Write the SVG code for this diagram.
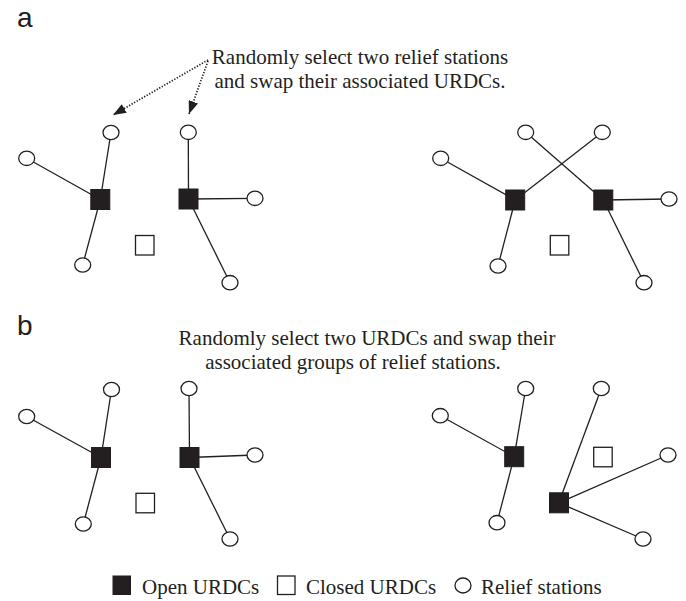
<svg xmlns="http://www.w3.org/2000/svg" width="686" height="601" viewBox="0 0 686 601">
<style>
.lbl{font-family:"Liberation Sans",Arial,sans-serif;font-size:28px;fill:#231f20}
.txt{font-family:"Liberation Serif","Times New Roman",serif;font-size:21px;fill:#231f20}
.open{fill:#231f20;stroke:#231f20;stroke-width:1}
.closed{fill:#fff;stroke:#231f20;stroke-width:1.3}
.rs{fill:#fff;stroke:#231f20;stroke-width:1.3}
.edge{stroke:#231f20;stroke-width:1.3;fill:none}
.dot{stroke:#231f20;stroke-width:1.7;fill:none;stroke-dasharray:1.3 1.6}
</style>
<defs>
<marker id="ah" viewBox="0 0 13 10" refX="13" refY="5" markerWidth="13" markerHeight="10" markerUnits="userSpaceOnUse" orient="auto">
<path d="M0,0 L13,5 L0,10 Z" fill="#231f20"/>
</marker>
</defs>
<rect width="686" height="601" fill="#fff"/>

<text class="lbl" x="17" y="27">a</text>
<text class="lbl" x="17" y="335">b</text>

<text class="txt" x="360" y="63.5" text-anchor="middle">Randomly select two relief stations</text>
<text class="txt" x="360" y="87.5" text-anchor="middle">and swap their associated URDCs.</text>
<text class="txt" x="367" y="345" text-anchor="middle">Randomly select two URDCs and swap their</text>
<text class="txt" x="353" y="369" text-anchor="middle">associated groups of relief stations.</text>

<g id="connectors">
<line class="dot" x1="208" y1="60" x2="113" y2="115" marker-end="url(#ah)"/>
<line class="dot" x1="208" y1="61" x2="189" y2="114" marker-end="url(#ah)"/>
<!-- a left -->
<line class="edge" x1="111" y1="132.5" x2="100.3" y2="199.5"/>
<line class="edge" x1="26.7" y1="158.3" x2="100.3" y2="199.5"/>
<line class="edge" x1="82.7" y1="265" x2="100.3" y2="199.5"/>
<line class="edge" x1="188.3" y1="132.3" x2="188.5" y2="199"/>
<line class="edge" x1="255" y1="198.3" x2="188.5" y2="199"/>
<line class="edge" x1="230" y1="282.7" x2="188.5" y2="199"/>
<!-- a right -->
<line class="edge" x1="525.7" y1="132.3" x2="603.3" y2="200"/>
<line class="edge" x1="602.3" y1="132.3" x2="515.2" y2="200"/>
<line class="edge" x1="440.7" y1="158.3" x2="515.2" y2="200"/>
<line class="edge" x1="498" y1="266" x2="515.2" y2="200"/>
<line class="edge" x1="669" y1="199" x2="603.3" y2="200"/>
<line class="edge" x1="644" y1="282.7" x2="603.3" y2="200"/>
<!-- b left -->
<line class="edge" x1="111.5" y1="389.5" x2="101" y2="457.5"/>
<line class="edge" x1="26.7" y1="416.5" x2="101" y2="457.5"/>
<line class="edge" x1="83.3" y1="524" x2="101" y2="457.5"/>
<line class="edge" x1="189" y1="388.5" x2="189.5" y2="457.5"/>
<line class="edge" x1="255" y1="455" x2="189.5" y2="457.5"/>
<line class="edge" x1="230" y1="539" x2="189.5" y2="457.5"/>
<!-- b right -->
<line class="edge" x1="525.7" y1="388.5" x2="514.2" y2="456.7"/>
<line class="edge" x1="440.3" y1="415.7" x2="514.2" y2="456.7"/>
<line class="edge" x1="497" y1="522.7" x2="514.2" y2="456.7"/>
<line class="edge" x1="601.3" y1="388.5" x2="558.8" y2="502.8"/>
<line class="edge" x1="668" y1="455" x2="558.8" y2="502.8"/>
<line class="edge" x1="643" y1="539" x2="558.8" y2="502.8"/>
</g>

<!-- panel a left -->
<g id="a-u1"><rect class="open" x="90.8" y="189.5" width="19" height="20"/></g>
<g id="a-u2"><rect class="open" x="179" y="189" width="19" height="20"/></g>
<g id="a-u3"><rect class="closed" x="135.5" y="235.5" width="18.5" height="19.5"/></g>
<g id="a-r1"><ellipse class="rs" cx="111" cy="132.5" rx="8" ry="7.2"/></g>
<g id="a-r2"><ellipse class="rs" cx="26.7" cy="158.3" rx="8" ry="7.2"/></g>
<g id="a-r3"><ellipse class="rs" cx="82.7" cy="265" rx="8" ry="7.2"/></g>
<g id="a-r4"><ellipse class="rs" cx="188.3" cy="132.3" rx="8" ry="7.2"/></g>
<g id="a-r5"><ellipse class="rs" cx="255" cy="198.3" rx="8" ry="7.2"/></g>
<g id="a-r6"><ellipse class="rs" cx="230" cy="282.7" rx="8" ry="7.2"/></g>

<!-- panel a right -->
<g id="a2-u1"><rect class="open" x="505.7" y="190" width="19" height="20"/></g>
<g id="a2-u2"><rect class="open" x="593.8" y="190" width="19" height="20"/></g>
<g id="a2-u3"><rect class="closed" x="550.3" y="235.5" width="18.5" height="19.5"/></g>
<g id="a2-r1"><ellipse class="rs" cx="525.7" cy="132.3" rx="8" ry="7.2"/></g>
<g id="a2-r2"><ellipse class="rs" cx="602.3" cy="132.3" rx="8" ry="7.2"/></g>
<g id="a2-r3"><ellipse class="rs" cx="440.7" cy="158.3" rx="8" ry="7.2"/></g>
<g id="a2-r4"><ellipse class="rs" cx="669" cy="199" rx="8" ry="7.2"/></g>
<g id="a2-r5"><ellipse class="rs" cx="498" cy="266" rx="8" ry="7.2"/></g>
<g id="a2-r6"><ellipse class="rs" cx="644" cy="282.7" rx="8" ry="7.2"/></g>

<!-- panel b left -->
<g id="b-u1"><rect class="open" x="91.5" y="447.5" width="19" height="20"/></g>
<g id="b-u2"><rect class="open" x="180" y="447.5" width="19" height="20"/></g>
<g id="b-u3"><rect class="closed" x="136" y="493.3" width="18.5" height="19.5"/></g>
<g id="b-r1"><ellipse class="rs" cx="111.5" cy="389.5" rx="8" ry="7.2"/></g>
<g id="b-r2"><ellipse class="rs" cx="26.7" cy="416.5" rx="8" ry="7.2"/></g>
<g id="b-r3"><ellipse class="rs" cx="83.3" cy="524" rx="8" ry="7.2"/></g>
<g id="b-r4"><ellipse class="rs" cx="189" cy="388.5" rx="8" ry="7.2"/></g>
<g id="b-r5"><ellipse class="rs" cx="255" cy="455" rx="8" ry="7.2"/></g>
<g id="b-r6"><ellipse class="rs" cx="230" cy="539" rx="8" ry="7.2"/></g>

<!-- panel b right -->
<g id="b2-u1"><rect class="open" x="504.7" y="446.7" width="19" height="20"/></g>
<g id="b2-u2"><rect class="open" x="549.5" y="492.8" width="19" height="20"/></g>
<g id="b2-u3"><rect class="closed" x="593.7" y="447.3" width="18.5" height="19.5"/></g>
<g id="b2-r1"><ellipse class="rs" cx="525.7" cy="388.5" rx="8" ry="7.2"/></g>
<g id="b2-r2"><ellipse class="rs" cx="601.3" cy="388.5" rx="8" ry="7.2"/></g>
<g id="b2-r3"><ellipse class="rs" cx="440.3" cy="415.7" rx="8" ry="7.2"/></g>
<g id="b2-r4"><ellipse class="rs" cx="668" cy="455" rx="8" ry="7.2"/></g>
<g id="b2-r5"><ellipse class="rs" cx="497" cy="522.7" rx="8" ry="7.2"/></g>
<g id="b2-r6"><ellipse class="rs" cx="643" cy="539" rx="8" ry="7.2"/></g>

<!-- legend -->
<g id="legend">
<rect class="open" x="113" y="576" width="17.5" height="18.5"/>
<text class="txt" x="142" y="594">Open URDCs</text>
<rect class="closed" x="277.5" y="576" width="17.5" height="18.5"/>
<text class="txt" x="306" y="594">Closed URDCs</text>
<ellipse class="rs" cx="463" cy="585.5" rx="8" ry="7.5"/>
<text class="txt" x="481" y="594">Relief stations</text>
</g>
</svg>
